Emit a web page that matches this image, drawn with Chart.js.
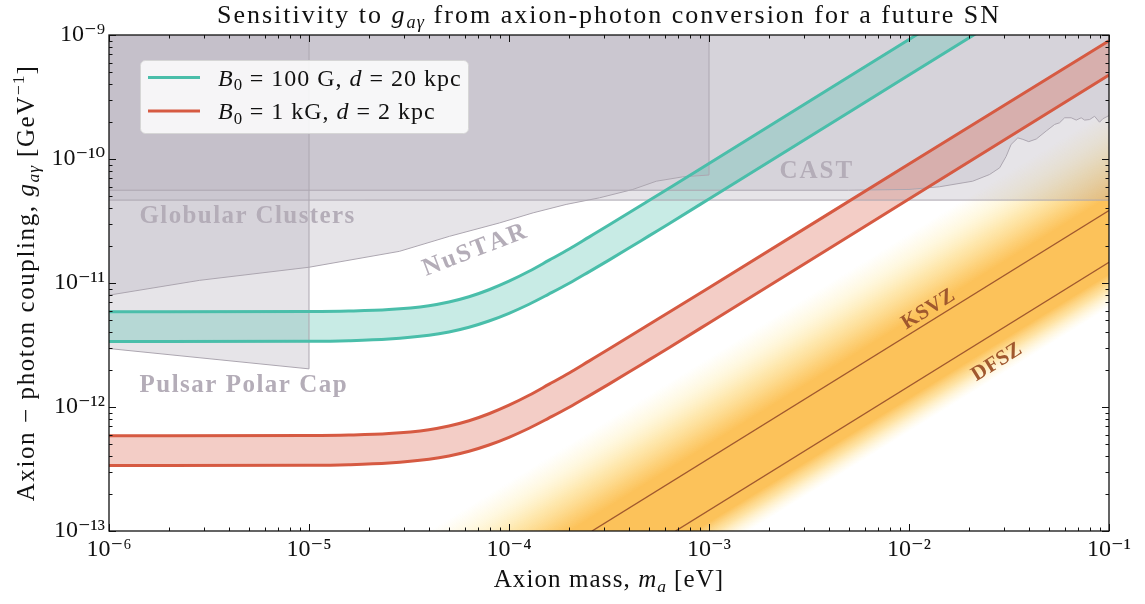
<!DOCTYPE html>
<html>
<head>
<meta charset="utf-8">
<title>Sensitivity to g_aγ from axion-photon conversion for a future SN</title>
<script src="https://cdn.jsdelivr.net/npm/chart.js@4.4.1/dist/chart.umd.min.js"></script>
<style>
html,body{margin:0;padding:0;background:#ffffff;}
#wrap{position:relative;width:1145px;height:604px;}
</style>
</head>
<body>
<div id="wrap"><canvas id="chart" width="1145" height="604"></canvas></div>
<script>
// ---------------- DATA ----------------
// Axion mass grid [eV] of the two sensitivity bands
const bandMass = [1e-6, 1e-5, 1.58e-5, 2.51e-5, 3.98e-5, 5.01e-5, 6.31e-5, 7.94e-5, 1e-4, 1.26e-4, 1.58e-4, 2e-4, 2.51e-4, 3.16e-4, 3.98e-4, 5.01e-4, 6.31e-4, 1e-3, 1e-2, 1e-1];
// B0 = 100 G, d = 20 kpc  (coupling g_aγ [GeV^-1])
const tealUpper = [5.86e-12, 5.89e-12, 5.94e-12, 6.10e-12, 6.56e-12, 7.02e-12, 7.74e-12, 8.82e-12, 1.034e-11, 1.243e-11, 1.521e-11, 1.881e-11, 2.345e-11, 2.934e-11, 3.681e-11, 4.624e-11, 5.815e-11, 9.2e-11, 9.2e-10, 9.2e-9];
const tealLower = [3.37e-12, 3.39e-12, 3.426e-12, 3.53e-12, 3.79e-12, 4.03e-12, 4.40e-12, 4.94e-12, 5.70e-12, 6.74e-12, 8.13e-12, 9.95e-12, 1.23e-11, 1.53e-11, 1.913e-11, 2.40e-11, 3.01e-11, 4.76e-11, 4.75e-10, 4.75e-9];
// B0 = 1 kG, d = 2 kpc
const redUpper = [5.86e-13, 5.89e-13, 5.94e-13, 6.10e-13, 6.56e-13, 7.02e-13, 7.74e-13, 8.82e-13, 1.034e-12, 1.243e-12, 1.521e-12, 1.881e-12, 2.345e-12, 2.934e-12, 3.681e-12, 4.624e-12, 5.8e-12, 9.15e-12, 9.1e-11, 9.0e-10];
const redLower = [3.37e-13, 3.39e-13, 3.426e-13, 3.53e-13, 3.79e-13, 4.03e-13, 4.40e-13, 4.94e-13, 5.70e-13, 6.74e-13, 8.13e-13, 9.95e-13, 1.23e-12, 1.53e-12, 1.913e-12, 2.40e-12, 3.01e-12, 4.76e-12, 4.75e-11, 4.75e-10];
// Existing bounds
const nustarMass = [1e-6, 2.83e-6, 1e-5, 2.83e-5, 5.04e-5, 8.96e-5, 1.32e-4, 1.93e-4, 2.83e-4, 4.16e-4, 5.45e-4, 7.4e-4, 1e-3, 1e-3];
const nustarG = [7.98e-12, 1.05e-11, 1.34e-11, 1.80e-11, 2.38e-11, 3.05e-11, 3.68e-11, 4.30e-11, 4.86e-11, 5.68e-11, 6.62e-11, 7.18e-11, 7.43e-11, 1e-9];
const castMass = [1e-6, 5e-3, 1e-2, 1.42e-2, 2.08e-2, 2.53e-2, 2.84e-2, 3.06e-2, 3.24e-2, 3.5e-2, 3.71e-2, 3.97e-2, 4.33e-2, 4.85e-2, 5.35e-2, 5.66e-2, 6.0e-2, 6.47e-2, 6.86e-2, 7.26e-2, 7.55e-2, 8.0e-2, 8.47e-2, 8.97e-2, 9.31e-2, 1e-1];
const castG = [5.6e-11, 5.6e-11, 5.68e-11, 5.97e-11, 6.62e-11, 7.5e-11, 8.49e-11, 1.05e-10, 1.31e-10, 1.48e-10, 1.44e-10, 1.38e-10, 1.45e-10, 1.68e-10, 1.9e-10, 1.96e-10, 2.15e-10, 2.15e-10, 2.06e-10, 2.15e-10, 2.06e-10, 2.08e-10, 2.21e-10, 1.98e-10, 2.11e-10, 2.24e-10];
const gcMass = [1e-6, 1e-1];
const gcG = [4.66e-11, 4.66e-11];
const pulsarMass = [1e-6, 1e-5, 1e-5];
const pulsarG = [2.96e-12, 2.03e-12, 1e-9];
// QCD axion band (faint edges) and benchmark models
const qcdMass = [1e-5, 1e-1];
const qcdUpper = [2.51e-14, 2.51e-10];
const qcdLower = [6.31e-16, 6.31e-12];
const ksvzMass = [2.6e-4, 1e-1];
const ksvzG = [1e-13, 3.84e-11];
const dfszMass = [6.8e-4, 1e-1];
const dfszG = [1e-13, 1.47e-11];
// Tick labels
const xTickValues = [1e-6, 1e-5, 1e-4, 1e-3, 1e-2, 1e-1];
const xTickLabels = ['10⁻⁶', '10⁻⁵', '10⁻⁴', '10⁻³', '10⁻²', '10⁻¹'];
const yTickValues = [1e-13, 1e-12, 1e-11, 1e-10, 1e-9];
const yTickLabels = ['10⁻¹³', '10⁻¹²', '10⁻¹¹', '10⁻¹⁰', '10⁻⁹'];
// Series names (legend)
const seriesNames = ['B0 = 100 G, d = 20 kpc', 'B0 = 1 kG, d = 2 kpc'];

// ---------------- STYLE ----------------
const FONT = '"Liberation Serif", "DejaVu Serif", serif';
const TEAL = 'rgb(74,190,170)';
const TEAL_FILL = 'rgba(74,190,170,0.30)';
const RED = 'rgb(214,90,66)';
const RED_FILL = 'rgba(214,90,66,0.30)';
const GRAY_FILL = 'rgba(185,180,191,0.36)';
const GRAY_LINE = 'rgb(172,166,176)';
const BROWN = 'rgb(160,88,46)';
const LABEL_GRAY = 'rgb(180,173,184)';

const pts = (xs, ys) => xs.map((x, i) => ({x: x, y: ys[i]}));

function tickLabel(values, labels, v) {
  for (let i = 0; i < values.length; i++) {
    if (Math.abs(Math.log10(v) - Math.log10(values[i])) < 1e-6) return labels[i];
  }
  return '';
}

function qcdGradient(context) {
  const chart = context.chart;
  const area = chart.chartArea;
  const xs = chart.scales.x, ys = chart.scales.y;
  if (!area || !xs || !ys) return 'rgba(252,194,90,0.6)';
  const ctx = chart.ctx;
  const p0x = xs.getPixelForValue(qcdMass[0]), p0y = ys.getPixelForValue(qcdUpper[0]);
  const p1x = xs.getPixelForValue(qcdMass[1]), p1y = ys.getPixelForValue(qcdUpper[1]);
  const q0y = ys.getPixelForValue(qcdLower[0]);
  let dx = p1x - p0x, dy = p1y - p0y;
  const L = Math.hypot(dx, dy); dx /= L; dy /= L;
  const nx = -dy, ny = dx;
  const s = (q0y - p0y) * ny;
  const g = ctx.createLinearGradient(p0x, p0y, p0x + nx * s, p0y + ny * s);
  g.addColorStop(0.00, 'rgba(255,238,175,0)');
  g.addColorStop(0.12, 'rgba(255,236,168,0.35)');
  g.addColorStop(0.25, 'rgba(254,222,140,0.70)');
  g.addColorStop(0.37, 'rgba(253,205,110,0.92)');
  g.addColorStop(0.44, 'rgba(252,194,90,1)');
  g.addColorStop(0.83, 'rgba(252,194,90,1)');
  g.addColorStop(0.90, 'rgba(254,218,135,0.75)');
  g.addColorStop(1.00, 'rgba(255,240,185,0)');
  return g;
}

// draw text char by char with extra letter spacing; returns width
function spacedWidth(ctx, t, ls) {
  let w = 0;
  for (const ch of t) w += ctx.measureText(ch).width + ls;
  return w;
}
function spacedFill(ctx, t, x, y, ls) {
  let cx = x;
  for (const ch of t) { ctx.fillText(ch, cx, y); cx += ctx.measureText(ch).width + ls; }
}

// rich text: parts = [[text, kind]] kind: 'r' roman, 'i' italic, 'rs'/'is' subscript, 'rp' superscript
function drawRich(ctx, parts, x, y, size, align, color, ls) {
  ls = ls || 0;
  let w = 0;
  const specs = parts.map(function (p) {
    const t = p[0], k = p[1];
    const small = k.length === 2;
    const sz = small ? size * 0.7 : size;
    const font = (k[0] === 'i' ? 'italic ' : '') + sz.toFixed(1) + 'px ' + FONT;
    const dy = !small ? 0 : (k[1] === 's' ? size * 0.2 : -size * 0.42);
    ctx.font = font;
    const l = small ? ls * 0.6 : ls;
    const ww = spacedWidth(ctx, t, l);
    w += ww;
    return {t: t, font: font, dy: dy, ww: ww, l: l};
  });
  let cx = align === 'center' ? x - w / 2 : (align === 'right' ? x - w : x);
  ctx.fillStyle = color;
  ctx.textBaseline = 'alphabetic';
  ctx.textAlign = 'left';
  specs.forEach(function (s) { ctx.font = s.font; spacedFill(ctx, s.t, cx, y + s.dy, s.l); cx += s.ww; });
  return w;
}

const annotations = [
  {text: 'Globular Clusters', m: 1.42e-6, g: 3.46e-11, rot: 0, align: 'left', color: LABEL_GRAY, size: 25, ls: 1.4},
  {text: 'Pulsar Polar Cap', m: 1.42e-6, g: 1.49e-12, rot: 0, align: 'left', color: LABEL_GRAY, size: 25, ls: 1.5},
  {text: 'CAST', m: 2.25e-3, g: 7.98e-11, rot: 0, align: 'left', color: LABEL_GRAY, size: 25, ls: 2},
  {text: 'NuSTAR', m: 6.72e-5, g: 1.83e-11, rot: -21, align: 'center', color: LABEL_GRAY, size: 25, ls: 2},
  {text: 'KSVZ', m: 1.25e-2, g: 6.1e-12, rot: -32, align: 'center', color: BROWN, size: 21, ls: 0.5},
  {text: 'DFSZ', m: 2.75e-2, g: 2.29e-12, rot: -32, align: 'center', color: BROWN, size: 21, ls: 0.5}
];

const decorPlugin = {
  id: 'decor',
  afterDatasetsDraw: function (chart) {
    const ctx = chart.ctx, a = chart.chartArea, xs = chart.scales.x, ys = chart.scales.y;
    ctx.save();
    ctx.beginPath(); ctx.rect(a.left, a.top, a.right - a.left, a.bottom - a.top); ctx.clip();
    // region labels
    annotations.forEach(function (an) {
      const px = xs.getPixelForValue(an.m), py = ys.getPixelForValue(an.g);
      ctx.save();
      ctx.translate(px, py);
      ctx.rotate(an.rot * Math.PI / 180);
      ctx.font = 'bold ' + an.size + 'px ' + FONT;
      ctx.fillStyle = an.color;
      ctx.textAlign = 'left';
      ctx.textBaseline = 'middle';
      const w = spacedWidth(ctx, an.text, an.ls) - an.ls;
      const x0 = an.align === 'center' ? -w / 2 : 0;
      spacedFill(ctx, an.text, x0, 0, an.ls);
      ctx.restore();
    });
    // legend
    const lx = 140.5, ly = 60.5, lw = 328, lh = 73;
    ctx.beginPath();
    if (ctx.roundRect) ctx.roundRect(lx, ly, lw, lh, 5); else ctx.rect(lx, ly, lw, lh);
    ctx.fillStyle = 'rgba(255,255,255,0.85)';
    ctx.fill();
    ctx.strokeStyle = 'rgb(214,214,214)';
    ctx.lineWidth = 1;
    ctx.stroke();
    const rows = [
      {color: TEAL, y: 77.5, parts: [['B', 'i'], ['0', 'rs'], [' = 100 G, ', 'r'], ['d', 'i'], [' = 20 kpc', 'r']]},
      {color: RED, y: 111, parts: [['B', 'i'], ['0', 'rs'], [' = 1 kG, ', 'r'], ['d', 'i'], [' = 2 kpc', 'r']]}
    ];
    rows.forEach(function (r) {
      ctx.beginPath(); ctx.moveTo(148, r.y); ctx.lineTo(200, r.y);
      ctx.strokeStyle = r.color; ctx.lineWidth = 3; ctx.stroke();
      drawRich(ctx, r.parts, 218, r.y + 8, 24, 'left', '#111', 1.0);
    });
    ctx.restore();

    // frame and inward ticks on all four sides
    ctx.save();
    ctx.strokeStyle = '#111';
    ctx.lineWidth = 1;
    function seg(x1, y1, x2, y2) { ctx.beginPath(); ctx.moveTo(x1, y1); ctx.lineTo(x2, y2); ctx.stroke(); }
    xTickValues.forEach(function (d) {
      for (let k = 1; k <= 9; k++) {
        const v = d * k;
        if (v > xs.max * 1.0001) break;
        const p = Math.round(xs.getPixelForValue(v)) + 0.5;
        const len = k === 1 ? 7 : 3.5;
        seg(p, a.bottom, p, a.bottom - len);
        seg(p, a.top, p, a.top + len);
      }
    });
    yTickValues.forEach(function (d) {
      for (let k = 1; k <= 9; k++) {
        const v = d * k;
        if (v > ys.max * 1.0001) break;
        const p = Math.round(ys.getPixelForValue(v)) + 0.5;
        const len = k === 1 ? 7 : 3.5;
        seg(a.left, p, a.left + len, p);
        seg(a.right, p, a.right - len, p);
      }
    });
    ctx.lineWidth = 1.3;
    ctx.strokeRect(a.left, a.top, a.right - a.left, a.bottom - a.top);
    ctx.restore();
  },
  afterDraw: function (chart) {
    const ctx = chart.ctx, a = chart.chartArea;
    ctx.save();
    // title
    drawRich(ctx, [['Sensitivity to ', 'r'], ['g', 'i'], ['aγ', 'is'], [' from axion-photon conversion for a future SN', 'r']],
      (a.left + a.right) / 2, 23, 26, 'center', '#111', 2.0);
    // x title
    drawRich(ctx, [['Axion mass, ', 'r'], ['m', 'i'], ['a', 'is'], [' [eV]', 'r']],
      (a.left + a.right) / 2, 587, 25, 'center', '#111', 1.1);
    // y title
    ctx.translate(34, (a.top + a.bottom) / 2);
    ctx.rotate(-Math.PI / 2);
    drawRich(ctx, [['Axion \u2212 photon coupling, ', 'r'], ['g', 'i'], ['aγ', 'is'], [' [GeV', 'r'], ['\u22121', 'rp'], [']', 'r']],
      0, 0, 25, 'center', '#111', 1.6);
    ctx.restore();
  }
};

const common = {pointRadius: 0, pointHoverRadius: 0, tension: 0};
const smooth = {cubicInterpolationMode: 'monotone', tension: 0.4};

const chart = new Chart(document.getElementById('chart'), {
  type: 'line',
  data: {
    datasets: [
      Object.assign({label: seriesNames[0], data: pts(bandMass, tealUpper), borderColor: TEAL, borderWidth: 3, backgroundColor: TEAL_FILL, fill: '+1', order: 0}, common, smooth),
      Object.assign({label: seriesNames[0] + ' (lower)', data: pts(bandMass, tealLower), borderColor: TEAL, borderWidth: 3, fill: false, order: 1}, common, smooth),
      Object.assign({label: seriesNames[1], data: pts(bandMass, redUpper), borderColor: RED, borderWidth: 3, backgroundColor: RED_FILL, fill: '+1', order: 2}, common, smooth),
      Object.assign({label: seriesNames[1] + ' (lower)', data: pts(bandMass, redLower), borderColor: RED, borderWidth: 3, fill: false, order: 3}, common, smooth),
      Object.assign({label: 'KSVZ', data: pts(ksvzMass, ksvzG), borderColor: BROWN, borderWidth: 1.4, fill: false, order: 5}, common),
      Object.assign({label: 'DFSZ', data: pts(dfszMass, dfszG), borderColor: BROWN, borderWidth: 1.4, fill: false, order: 6}, common),
      Object.assign({label: 'Pulsar Polar Cap', data: pts(pulsarMass, pulsarG), borderColor: GRAY_LINE, borderWidth: 1, backgroundColor: GRAY_FILL, fill: 'end', order: 10}, common),
      Object.assign({label: 'NuSTAR', data: pts(nustarMass, nustarG), borderColor: GRAY_LINE, borderWidth: 1, backgroundColor: GRAY_FILL, fill: 'end', order: 11}, common),
      Object.assign({label: 'Globular Clusters', data: pts(gcMass, gcG), borderColor: GRAY_LINE, borderWidth: 1, backgroundColor: GRAY_FILL, fill: 'end', order: 12}, common),
      Object.assign({label: 'CAST', data: pts(castMass, castG), borderColor: GRAY_LINE, borderWidth: 1, backgroundColor: GRAY_FILL, fill: 'end', order: 13}, common),
      Object.assign({label: 'QCD band', data: pts(qcdMass, qcdUpper), borderWidth: 0, borderColor: 'rgba(0,0,0,0)', backgroundColor: qcdGradient, fill: '+1', order: 20}, common),
      Object.assign({label: 'QCD band (lower)', data: pts(qcdMass, qcdLower), borderWidth: 0, borderColor: 'rgba(0,0,0,0)', fill: false, order: 21}, common)
    ]
  },
  options: {
    responsive: false,
    devicePixelRatio: 1,
    animation: false,
    events: [],
    layout: {padding: {left: 0, right: 36, top: 35, bottom: 0}},
    plugins: {
      legend: {display: false},
      title: {display: false},
      tooltip: {enabled: false},
      filler: {drawTime: 'beforeDatasetsDraw'}
    },
    scales: {
      x: {
        type: 'logarithmic', position: 'bottom', min: 1e-6, max: 1e-1,
        grid: {display: false, drawTicks: false},
        border: {display: false},
        afterBuildTicks: function (s) { s.ticks = xTickValues.map(function (v) { return {value: v}; }); },
        afterFit: function (s) { s.height = 73; },
        ticks: {autoSkip: false, maxRotation: 0, minRotation: 0, padding: 4, color: '#111',
          font: {family: FONT, size: 24},
          callback: function (v) { return tickLabel(xTickValues, xTickLabels, v); }}
      },
      y: {
        type: 'logarithmic', position: 'left', min: 1e-13, max: 1e-9,
        grid: {display: false, drawTicks: false},
        border: {display: false},
        afterBuildTicks: function (s) { s.ticks = yTickValues.map(function (v) { return {value: v}; }); },
        afterFit: function (s) { s.width = 109; },
        ticks: {autoSkip: false, padding: 4, color: '#111',
          font: {family: FONT, size: 24},
          callback: function (v) { return tickLabel(yTickValues, yTickLabels, v); }}
      }
    }
  },
  plugins: [decorPlugin]
});
</script>
</body>
</html>
